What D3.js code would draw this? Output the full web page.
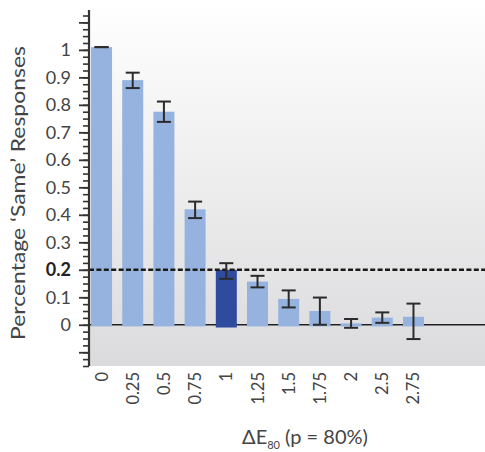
<!DOCTYPE html>
<html><head><meta charset="utf-8">
<script src="https://cdn.jsdelivr.net/npm/d3@7"></script>
<style>
html,body{margin:0;padding:0;background:#fff;}
svg{display:block;font-family:"Lato","DejaVu Sans",sans-serif;}
</style></head>
<body>
<svg id="chart" width="485" height="452"></svg>
<script>
const categories = ["0","0.25","0.5","0.75","1","1.25","1.5","1.75","2","2.5","2.75"];
const values     = [1.01, 0.89, 0.775, 0.42, 0.2, 0.157, 0.094, 0.05, 0.005, 0.026, 0.029];
const errUpper   = [1.01, 0.917, 0.812, 0.448, 0.224, 0.178, 0.125, 0.099, 0.021, 0.045, 0.077];
const errLower   = [1.01, 0.861, 0.738, 0.388, 0.167, 0.136, 0.063, 0.0, -0.011, 0.007, -0.052];
const highlight  = ["1"];
const yTickLabels = [0, 0.1, 0.2, 0.3, 0.4, 0.5, 0.6, 0.7, 0.8, 0.9, 1];
const thresholdValue = 0.2;

const svg = d3.select("#chart");
const plotLeft = 89, plotRight = 485, plotBottom = 366;

const y = d3.scaleLinear().domain([-0.15, 1.145]).range([366, 10]);
const x = d3.scaleBand().domain(categories).range([89, 426]).paddingInner(0.327).paddingOuter(0.065);

// background gradient
const defs = svg.append("defs");
const grad = defs.append("linearGradient").attr("id","bg").attr("x1",0).attr("y1",0).attr("x2",0).attr("y2",1);
grad.append("stop").attr("offset","0%").attr("stop-color","#ffffff");
grad.append("stop").attr("offset","100%").attr("stop-color","#dbdbdd");
svg.append("rect").attr("x",plotLeft).attr("y",0).attr("width",plotRight-plotLeft).attr("height",plotBottom)
  .attr("fill","url(#bg)");

// zero line
svg.append("line").attr("x1",plotLeft).attr("x2",plotRight).attr("y1",y(0)).attr("y2",y(0))
  .attr("stroke","#222").attr("stroke-width",1.5);

// bars
svg.append("g").selectAll("rect").data(categories).join("rect")
  .attr("x", d => x(d))
  .attr("width", x.bandwidth())
  .attr("y", (d,i) => y(values[i]))
  .attr("height", (d,i) => y(highlight.includes(d) ? -0.01 : -0.006) - y(values[i]))
  .attr("fill", d => highlight.includes(d) ? "#2f4b9e" : "#96b3df");

// threshold dashed line
svg.append("line").attr("x1",plotLeft).attr("x2",plotRight).attr("y1",y(thresholdValue)).attr("y2",y(thresholdValue))
  .attr("stroke","#1a1a1a").attr("stroke-width",2.6).attr("stroke-dasharray","5,2.4");

// error bars
const eb = svg.append("g").attr("stroke","#2b2b2b").attr("stroke-width",2);
categories.forEach((c,i) => {
  const cx = x(c) + x.bandwidth()/2;
  const hw = 7;
  eb.append("line").attr("x1",cx).attr("x2",cx).attr("y1",y(errUpper[i])).attr("y2",y(errLower[i]));
  eb.append("line").attr("x1",cx-hw).attr("x2",cx+hw).attr("y1",y(errUpper[i])).attr("y2",y(errUpper[i]));
  eb.append("line").attr("x1",cx-hw).attr("x2",cx+hw).attr("y1",y(errLower[i])).attr("y2",y(errLower[i]));
});

// y axis ticks
const minorTicks = d3.range(-0.15, 1.1501, 0.025).filter(v => v <= 1.145 + 1e-9);
const majorTicks = d3.range(-0.1, 1.1001, 0.1);
svg.append("g").attr("transform",`translate(${plotLeft},0)`)
  .call(d3.axisLeft(y).tickValues(minorTicks).tickSize(6).tickFormat(""))
  .call(g => g.select(".domain").remove())
  .call(g => g.selectAll("line").attr("stroke","#333").attr("stroke-width",1.6));
svg.append("g").attr("transform",`translate(${plotLeft},0)`)
  .call(d3.axisLeft(y).tickValues(majorTicks).tickSize(10).tickFormat(""))
  .call(g => g.select(".domain").remove())
  .call(g => g.selectAll("line").attr("stroke","#333").attr("stroke-width",1.8));
svg.append("line").attr("x1",plotLeft).attr("x2",plotLeft).attr("y1",y(1.145)).attr("y2",y(-0.15))
  .attr("stroke","#333").attr("stroke-width",2.2);

// y tick labels
svg.append("g").selectAll("text").data(yTickLabels).join("text")
  .attr("x", 71).attr("y", d => y(d)).attr("dy","0.36em")
  .attr("text-anchor","end")
  .attr("font-size", 18)
  .attr("font-weight", d => d === thresholdValue ? "bold" : "normal")
  .attr("fill", d => d === thresholdValue ? "#222" : "#444")
  .text(d => d3.format("")(+d.toFixed(1)));

// x tick labels
svg.append("g").selectAll("text").data(categories).join("text")
  .attr("transform", d => `translate(${x(d)+x.bandwidth()/2+6},372) rotate(-90)`)
  .attr("text-anchor","end")
  .attr("font-size", 16.5)
  .attr("fill","#444")
  .text(d => d);

// y title
svg.append("text")
  .attr("transform","translate(25,193) rotate(-90)")
  .attr("text-anchor","middle")
  .attr("font-size",20).attr("fill","#444")
  .attr("textLength",294).attr("lengthAdjust","spacingAndGlyphs")
  .text("Percentage \u2018Same\u2019 Responses");

// x title
const xt = svg.append("text").attr("x",305).attr("y",444).attr("text-anchor","middle")
  .attr("font-size",20).attr("fill","#444");
xt.append("tspan").text("\u0394E");
xt.append("tspan").attr("font-size",11).attr("dy",5).text("80");
xt.append("tspan").attr("dy",-5).text(" (p = 80%)");
</script>
</body></html>
